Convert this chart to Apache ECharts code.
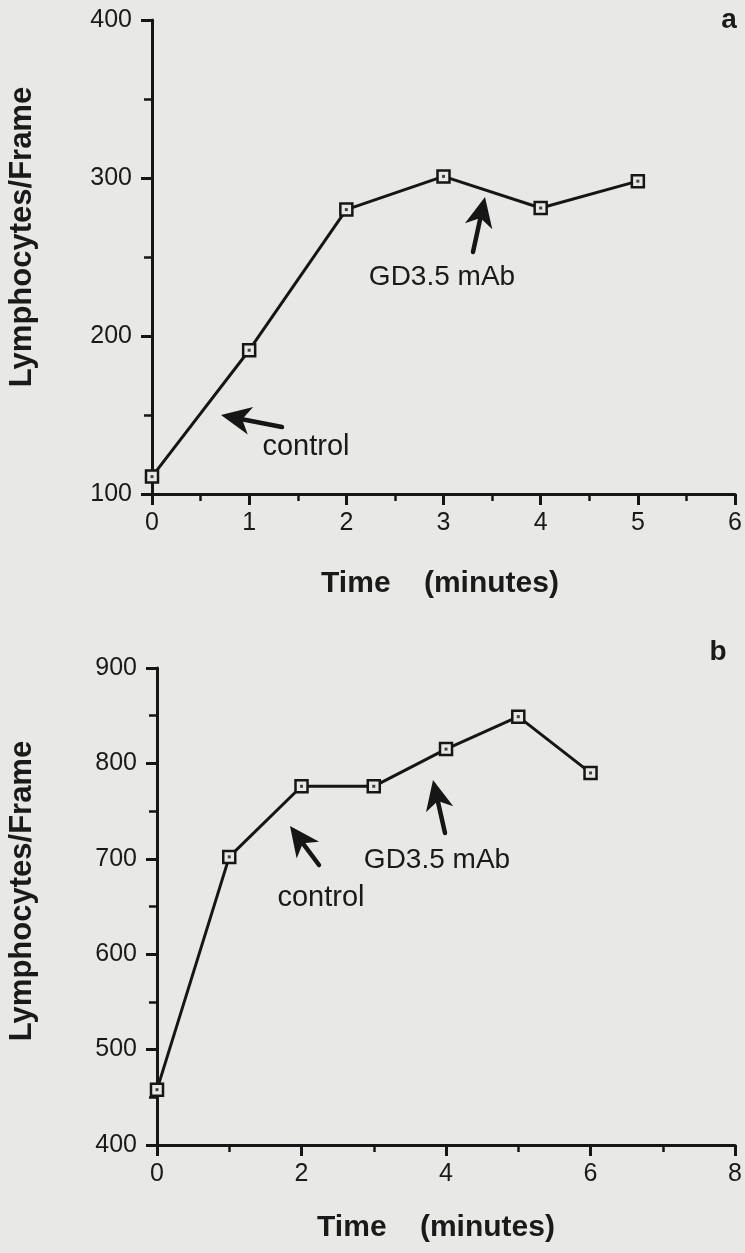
<!DOCTYPE html>
<html>
<head>
  <meta charset="UTF-8">
  <title>Lymphocytes/Frame</title>
  <script src="https://cdn.jsdelivr.net/npm/echarts@6/dist/echarts.min.js"></script>
  <style>
    html, body, #main {
      margin: 0;
      padding: 0;
      width: 745px;
      height: 1253px;
      background: #e8e8e6;
    }
  </style>
</head>
<body>
  <div id="main"></div>
  <script>
    // panel a
    const timeA = [0, 1, 2, 3, 4, 5];
    const countA = [111, 191, 280, 301, 281, 298];
    // panel b
    const timeB = [0, 1, 2, 3, 4, 5, 6];
    const countB = [458, 702, 776, 776, 815, 849, 790];

    const ink = '#161616';
    const bg = '#e8e8e6';
    const font = 'Liberation Sans, Arial, sans-serif';

    const chart = echarts.init(document.getElementById('main'));

    function pairs(xs, ys) {
      return xs.map((x, i) => [x, ys[i]]);
    }

    function xAxisCfg(gridIndex, max, interval) {
      return {
        type: 'value', gridIndex, min: 0, max, interval,
        axisLine: { lineStyle: { color: ink, width: 3 } },
        axisTick: { length: 11, lineStyle: { color: ink, width: 3 } },
        minorTick: { show: true, splitNumber: 2, length: 7, lineStyle: { color: ink, width: 2.5 } },
        axisLabel: { color: '#1a1a1a', fontSize: 25, fontFamily: font, margin: 17 },
        splitLine: { show: false }
      };
    }

    function yAxisCfg(gridIndex, min, max) {
      return {
        type: 'value', gridIndex, min, max, interval: 100,
        axisLine: { show: true, lineStyle: { color: ink, width: 3 } },
        axisTick: { show: true, length: 11, lineStyle: { color: ink, width: 3 } },
        minorTick: { show: true, splitNumber: 2, length: 8, lineStyle: { color: ink, width: 2.5 } },
        axisLabel: { color: '#1a1a1a', fontSize: 25, fontFamily: font, margin: 20 },
        splitLine: { show: false }
      };
    }

    function lineSeries(idx, data) {
      return {
        type: 'line', xAxisIndex: idx, yAxisIndex: idx,
        data,
        symbol: 'rect', symbolSize: 12,
        lineStyle: { color: ink, width: 3 },
        itemStyle: { color: bg, borderColor: ink, borderWidth: 2.5 },
        z: 3
      };
    }

    function dotSeries(idx, data) {
      return {
        type: 'scatter', xAxisIndex: idx, yAxisIndex: idx,
        data, symbol: 'rect', symbolSize: 3,
        itemStyle: { color: ink }, z: 4, silent: true
      };
    }

    // arrow with a barbed head, tip at (x2, y2)
    function arrow(x1, y1, x2, y2) {
      const dx = x2 - x1, dy = y2 - y1;
      const len = Math.sqrt(dx * dx + dy * dy);
      const ux = dx / len, uy = dy / len;
      const nx = -uy, ny = ux;
      const hl = 30, hw = 14;
      const bx = x2 - ux * hl, by = y2 - uy * hl;
      const mx = x2 - ux * hl * 0.72, my = y2 - uy * hl * 0.72;
      return [
        {
          type: 'line',
          shape: { x1, y1, x2: mx, y2: my },
          style: { stroke: ink, lineWidth: 4.5, lineCap: 'round' }
        },
        {
          type: 'polygon',
          shape: { points: [[x2, y2], [bx + nx * hw, by + ny * hw], [mx, my], [bx - nx * hw, by - ny * hw]] },
          style: { fill: ink }
        }
      ];
    }

    function label(text, x, y, size, bold, rotate) {
      return {
        type: 'text', x, y, rotation: rotate || 0,
        style: {
          text, fill: '#1a1a1a', fontSize: size, fontFamily: font,
          fontWeight: bold ? 'bold' : 'normal', align: 'center', verticalAlign: 'middle'
        }
      };
    }

    const graphics = [].concat(
      label('a', 729, 20, 28, true),
      label('b', 718, 652, 28, true),
      label('Lymphocytes/Frame', 22, 237, 31, true, Math.PI / 2),
      label('Lymphocytes/Frame', 22, 891, 31, true, Math.PI / 2),
      label('Time    (minutes)', 440, 584, 30, true),
      label('Time    (minutes)', 436, 1228, 30, true),
      // panel a annotations
      arrow(282, 427, 221, 415),
      label('control', 306, 447, 29, false),
      arrow(473, 252, 485, 197),
      label('GD3.5 mAb', 442, 277, 28, false),
      // panel b annotations
      arrow(319, 865, 290, 826),
      label('control', 321, 898, 29, false),
      arrow(445, 833, 433, 780),
      label('GD3.5 mAb', 437, 860, 28, false)
    );

    chart.setOption({
      backgroundColor: bg,
      animation: false,
      grid: [
        { left: 152, top: 20, width: 583, height: 474 },
        { left: 157, top: 668, width: 585, height: 477 }
      ],
      xAxis: [xAxisCfg(0, 6, 1), xAxisCfg(1, 8, 2)],
      yAxis: [yAxisCfg(0, 100, 400), yAxisCfg(1, 400, 900)],
      series: [
        lineSeries(0, pairs(timeA, countA)),
        dotSeries(0, pairs(timeA, countA)),
        lineSeries(1, pairs(timeB, countB)),
        dotSeries(1, pairs(timeB, countB))
      ],
      graphic: graphics
    });
  </script>
</body>
</html>
